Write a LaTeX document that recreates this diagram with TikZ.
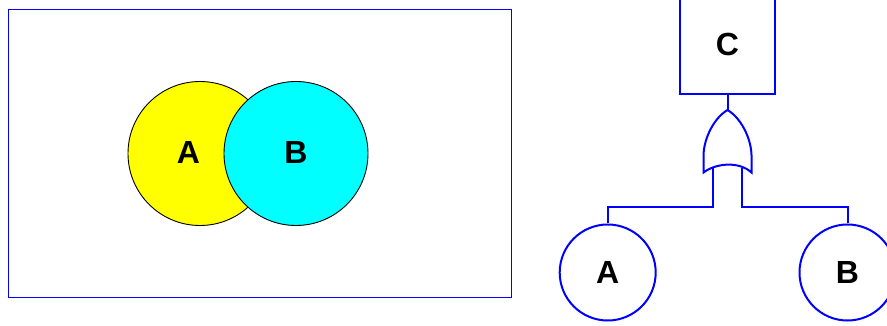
\documentclass[tikz,border=0pt]{standalone}
\usepackage{fontspec}
\setmainfont{Liberation Sans}
\definecolor{lineblue}{RGB}{0,0,255}
\definecolor{vennyellow}{RGB}{255,255,0}
\definecolor{venncyan}{RGB}{0,255,255}
\tikzset{
  x=1pt,y=-1pt,
  lbl/.style={font=\fontsize{32}{36}\selectfont\bfseries,text=black},
  venn/.style={circle,draw=black,line width=0.9pt,minimum size=144pt,inner sep=0pt,lbl},
  frame/.style={draw=lineblue,line width=1pt,fill=white},
  ftline/.style={draw=lineblue,line width=2pt,line join=miter},
  event/.style={circle,ftline,minimum size=96pt,inner sep=0pt,lbl},
  topbox/.style={rectangle,ftline,minimum width=95.5pt,minimum height=100pt,inner sep=0pt,lbl}
}
\begin{document}
\begin{tikzpicture}
\useasboundingbox (0,0) rectangle (887,326);
\path[clip] (0,0) rectangle (887,326);
\fill[white] (0,0) rectangle (887,326);
\draw[frame] (8.5,9.5) rectangle (511.7,297);
\node[venn,fill=vennyellow] (va) at (200,153.5) {};
\node[venn,fill=venncyan] (vb) at (296,153.5) {};
\node[lbl] (la) at (188.5,152) {A};
\node[lbl] (lb) at (296,152) {B};
\node[topbox] (c) at (727.5,44) {C};
\node[event] (a) at (607.7,272.5) {A};
\node[event] (b) at (847.5,272.5) {B};
\coordinate (gtop) at (727.5,110);
\coordinate (gl) at (712.7,168);
\coordinate (gr) at (742,168);
\draw[ftline] (gtop) .. controls (714,118) and (704,138) .. (703.5,155)
  -- (703.5,172.5) .. controls (716,163) and (739,161) .. (751.5,172.5)
  -- (751.5,155) .. controls (751,138) and (741,118) .. (gtop) -- cycle;
\draw[ftline] (c.south) -- (gtop);
\draw[ftline] (gl) -- (712.7,207.5) -| (a.north);
\draw[ftline] (gr) -- (742,207.5) -| (b.north);
\end{tikzpicture}
\end{document}
